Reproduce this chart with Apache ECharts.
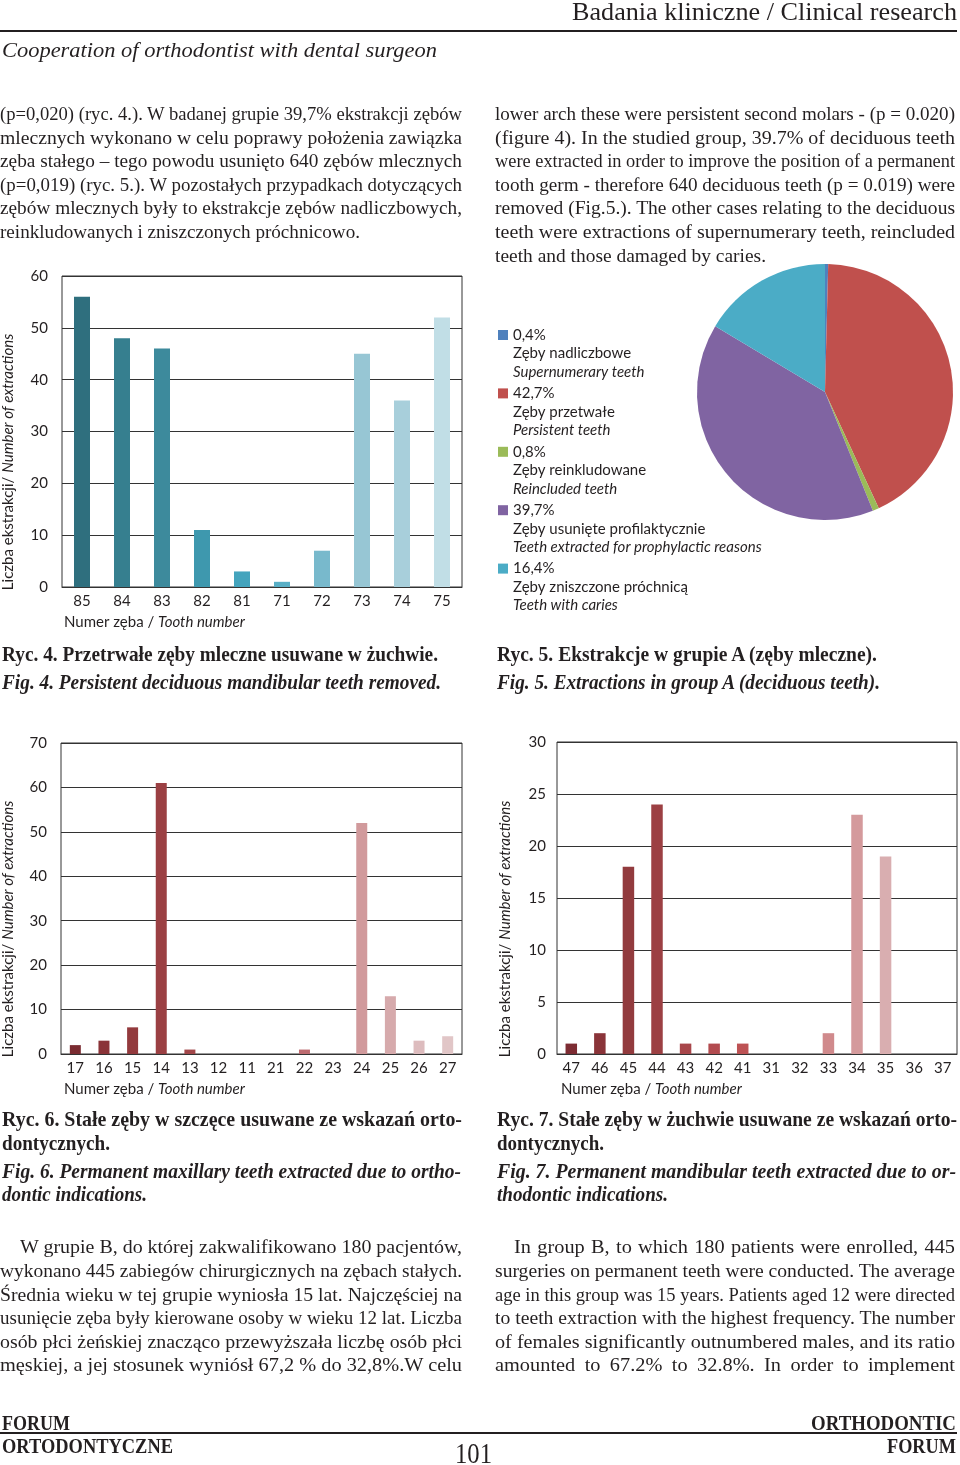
<!DOCTYPE html>
<html><head><meta charset="utf-8">
<script src="https://cdn.jsdelivr.net/npm/echarts@6/dist/echarts.min.js"></script>
<style>
html,body{margin:0;padding:0;background:#fff;}
#page{position:relative;width:960px;height:1465px;overflow:hidden;background:#fff;}
#chart{position:absolute;left:0;top:0;width:960px;height:1465px;}
.ln{position:absolute;white-space:nowrap;transform-origin:0 50%;color:#231f20;}
.body{font-family:'Liberation Serif',serif;font-size:18.5px;}
.cap{font-family:'Liberation Serif',serif;font-size:21px;font-weight:bold;}
.capi{font-family:'Liberation Serif',serif;font-size:21px;font-weight:bold;font-style:italic;}
.hdr{font-family:'Liberation Serif',serif;font-size:25px;}
.sub{font-family:'Liberation Serif',serif;font-size:22px;font-style:italic;}
.ft{font-family:'Liberation Serif',serif;font-size:20px;font-weight:bold;}
.pg{font-family:'Liberation Serif',serif;font-size:29px;}
.hr{position:absolute;left:0;width:957px;background:#231f20;}
</style></head>
<body><div id="page"><div id="chart"></div>
<div class="hr" style="top:30px;height:2px"></div>
<div class="hr" style="top:1432px;height:2px"></div>
</div>
<script>
// ---- data ----
const cats4 = ['85','84','83','82','81','71','72','73','74','75'];
const vals4 = [56, 48, 46, 11, 3, 1, 7, 45, 36, 52];
const cats6 = ['17','16','15','14','13','12','11','21','22','23','24','25','26','27'];
const vals6 = [2, 3, 6, 61, 1, 0, 0, 0, 1, 0, 52, 13, 3, 4];
const cats7 = ['47','46','45','44','43','42','41','31','32','33','34','35','36','37'];
const vals7 = [1, 2, 18, 24, 1, 1, 1, 0, 0, 2, 23, 19, 0, 0];
const pieValues = [0.4, 42.7, 0.8, 39.7, 16.4];
const pieNamesPL = ['Zęby nadliczbowe','Zęby przetwałe','Zęby reinkludowane','Zęby usunięte profilaktycznie','Zęby zniszczone próchnicą'];
const pieNamesEN = ['Supernumerary teeth','Persistent teeth','Reincluded teeth','Teeth extracted for prophylactic reasons','Teeth with caries'];
const yTicks4 = {min:0, max:60, interval:10};
const yTicks6 = {min:0, max:70, interval:10};
const yTicks7 = {min:0, max:30, interval:5};

// ---- styles ----
const pal4 = ['#2f6f7e','#367f8f','#3d8a9c','#3e98ae','#44a4bd','#58aec5','#78b9cc','#97c6d4','#a8cfdb','#c1dee6'];
const pal6 = ['#7a2b31','#8a3338','#933a3d','#9b4043','#a2474a','#a84a4e','#ad5054','#b35a5e','#bd6b70','#c87f83','#d19a9c','#d6aaac','#ddbcbe','#e1c6c7'];
const pal7 = ['#7d2c33','#8a3439','#923b3e','#9c4043','#a8464a','#b24b4f','#bd5254','#c66a6d','#cb7a7d','#d08a8c','#d49a9c','#d9aeb0','#dcb8ba','#e0c2c3'];
const pieColors = ['#4f81bd','#c0504d','#9bbb59','#8064a2','#4bacc6'];
const TXT = '#231f20';
const SANS = 'Lato';
const FS = 15;

// ---- HTML text lines ----
const lines = [
 {t:'Badania kliniczne / Clinical research', x:572, y:12, w:385, m:'s', c:'hdr', lh:30},
 {t:'Cooperation of orthodontist with dental surgeon', x:2, y:50, w:435, m:'s', c:'sub', lh:28},

 {t:'(p=0,020) (ryc. 4.). W badanej grupie 39,7% ekstrakcji zębów', x:0, y:114, w:462, m:'j', c:'body'},
 {t:'mlecznych wykonano w celu poprawy położenia zawiązka', x:0, y:137.5, w:462, m:'j', c:'body'},
 {t:'zęba stałego – tego powodu usunięto 640 zębów mlecznych', x:0, y:161, w:462, m:'j', c:'body'},
 {t:'(p=0,019) (ryc. 5.). W pozostałych przypadkach dotyczących', x:0, y:184.5, w:462, m:'j', c:'body'},
 {t:'zębów mlecznych były to ekstrakcje zębów nadliczbowych,', x:0, y:208, w:462, m:'j', c:'body'},
 {t:'reinkludowanych i zniszczonych próchnicowo.', x:0, y:232, w:360, m:'s', c:'body'},

 {t:'lower arch these were persistent second molars - (p = 0.020)', x:495, y:114, w:460, m:'j', c:'body'},
 {t:'(figure 4). In the studied group, 39.7% of deciduous teeth', x:495, y:137.5, w:460, m:'j', c:'body'},
 {t:'were extracted in order to improve the position of a permanent', x:495, y:161, w:460, m:'j', c:'body'},
 {t:'tooth germ - therefore 640 deciduous teeth (p = 0.019) were', x:495, y:184.5, w:460, m:'j', c:'body'},
 {t:'removed (Fig.5.). The other cases relating to the deciduous', x:495, y:208, w:460, m:'j', c:'body'},
 {t:'teeth were extractions of supernumerary teeth, reincluded', x:495, y:232, w:460, m:'j', c:'body'},
 {t:'teeth and those damaged by caries.', x:495, y:255.5, w:271, m:'s', c:'body'},

 {t:'Ryc. 4. Przetrwałe zęby mleczne usuwane w żuchwie.', x:2, y:654, w:436, m:'s', c:'cap'},
 {t:'Fig. 4. Persistent deciduous mandibular teeth removed.', x:2, y:682, w:439, m:'s', c:'capi'},
 {t:'Ryc. 5.  Ekstrakcje w grupie A (zęby mleczne).', x:497, y:654, w:380, m:'s', c:'cap'},
 {t:'Fig. 5. Extractions in group A (deciduous teeth).', x:497, y:682, w:383, m:'s', c:'capi'},

 {t:'Ryc. 6. Stałe zęby w szczęce usuwane ze wskazań orto-', x:2, y:1119, w:460, m:'s', c:'cap'},
 {t:'dontycznych.', x:2, y:1143, w:108, m:'s', c:'cap'},
 {t:'Fig. 6. Permanent maxillary teeth extracted due to ortho-', x:2, y:1171, w:459, m:'s', c:'capi'},
 {t:'dontic indications.', x:2, y:1194, w:145, m:'s', c:'capi'},
 {t:'Ryc. 7. Stałe zęby w żuchwie usuwane ze wskazań orto-', x:497, y:1119, w:460, m:'s', c:'cap'},
 {t:'dontycznych.', x:497, y:1143, w:107, m:'s', c:'cap'},
 {t:'Fig. 7. Permanent mandibular teeth extracted due to or-', x:497, y:1171, w:459, m:'s', c:'capi'},
 {t:'thodontic indications.', x:497, y:1194, w:171, m:'s', c:'capi'},

 {t:'W grupie B, do której zakwalifikowano 180 pacjentów,', x:20, y:1247, w:442, m:'j', c:'body'},
 {t:'wykonano 445 zabiegów chirurgicznych na zębach stałych.', x:0, y:1271, w:462, m:'j', c:'body'},
 {t:'Średnia wieku w tej grupie wyniosła 15 lat. Najczęściej na', x:0, y:1294.5, w:462, m:'j', c:'body'},
 {t:'usunięcie zęba były kierowane osoby w wieku 12 lat. Liczba', x:0, y:1318, w:462, m:'j', c:'body'},
 {t:'osób płci żeńskiej znacząco przewyższała liczbę osób płci', x:0, y:1342, w:462, m:'j', c:'body'},
 {t:'męskiej, a jej stosunek wyniósł 67,2 % do 32,8%.W celu', x:0, y:1365, w:462, m:'j', c:'body'},

 {t:'In group B, to which 180 patients were enrolled, 445', x:514, y:1247, w:441, m:'j', c:'body'},
 {t:'surgeries on permanent teeth were conducted. The average', x:495, y:1271, w:460, m:'j', c:'body'},
 {t:'age in this group was 15 years. Patients aged 12 were directed', x:495, y:1294.5, w:460, m:'j', c:'body'},
 {t:'to teeth extraction with the highest frequency. The number', x:495, y:1318, w:460, m:'j', c:'body'},
 {t:'of females significantly outnumbered males, and its ratio', x:495, y:1342, w:460, m:'j', c:'body'},
 {t:'amounted to 67.2% to 32.8%. In order to implement', x:495, y:1365, w:460, m:'j', c:'body'},

 {t:'FORUM', x:2, y:1423, w:68, m:'s', c:'ft'},
 {t:'ORTODONTYCZNE', x:2, y:1446, w:171, m:'s', c:'ft'},
 {t:'ORTHODONTIC', x:811, y:1423, w:145, m:'s', c:'ft'},
 {t:'FORUM', x:887, y:1446, w:69, m:'s', c:'ft'},
 {t:'101', x:455, y:1453, w:37, m:'s', c:'pg', lh:34}
];
const page = document.getElementById('page');
const MAXS = 1.1;
lines.forEach(L => {
  const lh = L.lh || 24;
  const d = document.createElement('div');
  d.className = 'ln ' + L.c;
  d.textContent = L.t;
  d.style.left = L.x + 'px';
  d.style.top = (L.y - lh / 2) + 'px';
  d.style.lineHeight = lh + 'px';
  d.style.height = lh + 'px';
  page.appendChild(d);
  const w = d.getBoundingClientRect().width;
  const n = (L.t.match(/ /g) || []).length;
  if (L.m === 'j' && n > 0) {
    const s = Math.min(L.w / w, MAXS);
    const rest = L.w / s - w;
    d.style.wordSpacing = (rest / n) + 'px';
    d.style.transform = 'scaleX(' + s + ')';
  } else {
    d.style.transform = 'scaleX(' + (L.w / w) + ')';
  }
});

// ---- chart ----
const chart = echarts.init(document.getElementById('chart'), null, {renderer:'canvas'});
const axisLabel = {fontSize:FS, color:TXT, fontFamily:SANS};
function xAx(gi, cats){
  return {type:'category', gridIndex:gi, data:cats,
    axisLine:{show:true, lineStyle:{color:'#333', width:1}}, axisTick:{show:false},
    axisLabel:Object.assign({interval:0, margin:7}, axisLabel)};
}
function yAx(gi, t, margin){
  return {type:'value', gridIndex:gi, min:t.min, max:t.max, interval:t.interval,
    axisLine:{show:false}, axisTick:{show:false},
    splitLine:{show:true, lineStyle:{color:'#333', width:1}},
    axisLabel:Object.assign({margin:margin}, axisLabel)};
}
function barSeries(gi, vals, pal, bw){
  return {type:'bar', xAxisIndex:gi, yAxisIndex:gi, barWidth:bw, silent:true,
    data: vals.map((v,i)=>({value:v, itemStyle:{color:pal[i]}}))};
}
const richName = {
  a:{fontSize:FS, fontFamily:SANS, fill:TXT, color:TXT},
  b:{fontSize:FS, fontFamily:SANS, fontStyle:'italic', fill:TXT, color:TXT}
};
function nameText(x, y, rot, str1, str2, align){
  return {type:'text', x:x, y:y, rotation:rot, z:10,
    style:{text:'{a|'+str1+'}{b|'+str2+'}', rich:richName, align:align, verticalAlign:'middle', fill:TXT, fontSize:FS, fontFamily:SANS}};
}
const graphics = [
  nameText(8, 462, Math.PI/2, 'Liczba ekstrakcji/ ', 'Number of extractions', 'center'),
  nameText(8, 929, Math.PI/2, 'Liczba ekstrakcji/ ', 'Number of extractions', 'center'),
  nameText(505, 929, Math.PI/2, 'Liczba ekstrakcji/ ', 'Number of extractions', 'center'),
  nameText(64, 622, 0, 'Numer zęba / ', 'Tooth number', 'left'),
  nameText(64, 1089, 0, 'Numer zęba / ', 'Tooth number', 'left'),
  nameText(561, 1089, 0, 'Numer zęba / ', 'Tooth number', 'left')
];
pieValues.forEach((v,i)=>{
  const y0 = 335 + 58.4*i;
  graphics.push({type:'rect', shape:{x:498, y:y0-5, width:10, height:10}, style:{fill:pieColors[i]}});
  graphics.push({type:'text', x:513, y:y0, style:{text:v.toFixed(1).replace('.',',')+'%', fill:TXT, fontSize:FS, fontFamily:SANS, verticalAlign:'middle'}});
  graphics.push({type:'text', x:513, y:y0+18.5, style:{text:pieNamesPL[i], fill:TXT, fontSize:FS, fontFamily:SANS, verticalAlign:'middle'}});
  graphics.push({type:'text', x:513, y:y0+37, style:{text:pieNamesEN[i], fill:TXT, fontSize:FS, fontFamily:SANS, fontStyle:'italic', verticalAlign:'middle'}});
});

chart.setOption({
  animation:false,
  backgroundColor:'transparent',
  grid:[
    {left:62, top:276, width:400, height:311, show:true, borderColor:'#333', borderWidth:1, backgroundColor:'transparent'},
    {left:61, top:743, width:401, height:311, show:true, borderColor:'#333', borderWidth:1, backgroundColor:'transparent'},
    {left:557, top:742, width:400, height:312, show:true, borderColor:'#333', borderWidth:1, backgroundColor:'transparent'}
  ],
  xAxis:[xAx(0,cats4), xAx(1,cats6), xAx(2,cats7)],
  yAxis:[yAx(0,yTicks4,14), yAx(1,yTicks6,14), yAx(2,yTicks7,11)],
  series:[
    barSeries(0, vals4, pal4, 16),
    barSeries(1, vals6, pal6, 11),
    barSeries(2, vals7, pal7, 11.5),
    {type:'pie', center:[825,392], radius:128, startAngle:90, clockwise:true, silent:true,
     label:{show:false}, labelLine:{show:false},
     itemStyle:{borderWidth:0},
     data: pieValues.map((v,i)=>({value:v, name:pieNamesEN[i], itemStyle:{color:pieColors[i]}}))}
  ],
  graphic: graphics
});
</script>
</body></html>
